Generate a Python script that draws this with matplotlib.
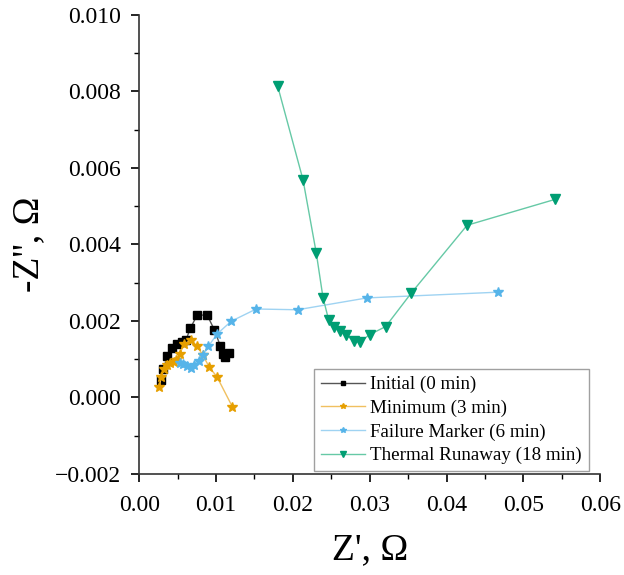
import matplotlib
matplotlib.use('Agg')
import matplotlib.pyplot as plt
from matplotlib.ticker import MultipleLocator

plt.rcParams['font.family'] = ['Liberation Serif', 'DejaVu Serif']
plt.rcParams['mathtext.fontset'] = 'stix'

# Nyquist data, Z' and -Z'' in ohm
initial_x = [0.00286, 0.00316, 0.00368, 0.00426, 0.00491, 0.00556, 0.00612, 0.00664,
             0.00755, 0.00885, 0.00980, 0.01055, 0.01090, 0.01120, 0.01163]
initial_y = [0.00046, 0.00074, 0.00109, 0.00128, 0.00139, 0.00144, 0.00151, 0.00180,
             0.00215, 0.00215, 0.00176, 0.00135, 0.00113, 0.00105, 0.00115]

minimum_x = [0.00264, 0.00283, 0.00326, 0.00361, 0.00404, 0.00447, 0.00482, 0.00525,
             0.00590, 0.00671, 0.00755, 0.00829, 0.00915, 0.01012, 0.01211]
minimum_y = [0.00026, 0.00052, 0.00075, 0.00084, 0.00089, 0.00093, 0.00098, 0.00113,
             0.00139, 0.00150, 0.00134, 0.00110, 0.00078, 0.00054, -0.00024]

failure_x = [0.00525, 0.00573, 0.00625, 0.00673, 0.00716, 0.00785, 0.00837, 0.00902,
             0.01016, 0.01198, 0.01523, 0.02061, 0.02965, 0.04671]
failure_y = [0.00091, 0.00087, 0.00083, 0.00077, 0.00084, 0.00096, 0.00111, 0.00134,
             0.00166, 0.00199, 0.00231, 0.00229, 0.00260, 0.00275]

runaway_x = [0.01801, 0.02132, 0.02305, 0.02392, 0.02465, 0.02530, 0.02608, 0.02695,
             0.02790, 0.02868, 0.02999, 0.03207, 0.03542, 0.04267, 0.05417]
runaway_y = [0.00815, 0.00569, 0.00377, 0.00261, 0.00203, 0.00183, 0.00174, 0.00163,
             0.00148, 0.00144, 0.00164, 0.00185, 0.00273, 0.00450, 0.00518]

fig = plt.figure(figsize=(6.24, 5.75), dpi=100)
ax = fig.add_axes([0.223, 0.176, 0.739, 0.798])

# line colour is a lighter tint of the marker colour
ax.plot(initial_x, initial_y, color='#555555', lw=1.0, marker='s', ms=5.5,
        mfc='black', mec='black', label='Initial (0 min)')
ax.plot(minimum_x, minimum_y, color='#f0c060', lw=1.0, marker='*', ms=7,
        mfc='#E69F00', mec='#E69F00', label='Minimum (3 min)')
ax.plot(failure_x, failure_y, color='#9fd3f2', lw=1.0, marker='*', ms=7,
        mfc='#56B4E9', mec='#56B4E9', label='Failure Marker (6 min)')
ax.plot(runaway_x, runaway_y, color='#66c9a6', lw=1.0, marker='v', ms=6.5,
        mfc='#009E73', mec='#009E73', label='Thermal Runaway (18 min)')

ax.set_xlim(0, 0.06)
ax.set_ylim(-0.002, 0.010)
ax.xaxis.set_major_locator(MultipleLocator(0.01))
ax.xaxis.set_minor_locator(MultipleLocator(0.005))
ax.yaxis.set_major_locator(MultipleLocator(0.002))
ax.yaxis.set_minor_locator(MultipleLocator(0.001))
ax.xaxis.set_major_formatter(lambda v, p: f'{v:.2f}'.replace('-', '\u2212'))
ax.yaxis.set_major_formatter(lambda v, p: f'{v:.3f}'.replace('-', '\u2212'))

for side in ['top', 'right']:
    ax.spines[side].set_visible(False)
for side in ['left', 'bottom']:
    ax.spines[side].set_color('#333333')
    ax.spines[side].set_linewidth(1.2)

ax.tick_params(which='major', direction='out', length=6, width=1.2, labelsize=17)
ax.tick_params(axis='x', which='major', pad=9)
ax.tick_params(axis='y', which='major', pad=7)
ax.tick_params(which='minor', direction='out', length=3.5, width=1.0)

ax.set_xlabel("Z', \u03a9", fontsize=27, labelpad=12)
ax.set_ylabel("-Z'', \u03a9", fontsize=27, labelpad=6)

leg = ax.legend(loc='lower right', bbox_to_anchor=(0.975, 0.006), borderaxespad=0,
                fontsize=13.7, frameon=True, fancybox=False, handlelength=2.3,
                handletextpad=0.3, labelspacing=0.33, borderpad=0.35, markerscale=0.6)
leg.get_frame().set_edgecolor('#888888')
leg.get_frame().set_linewidth(1.0)

fig.savefig('out.png', dpi=100)
